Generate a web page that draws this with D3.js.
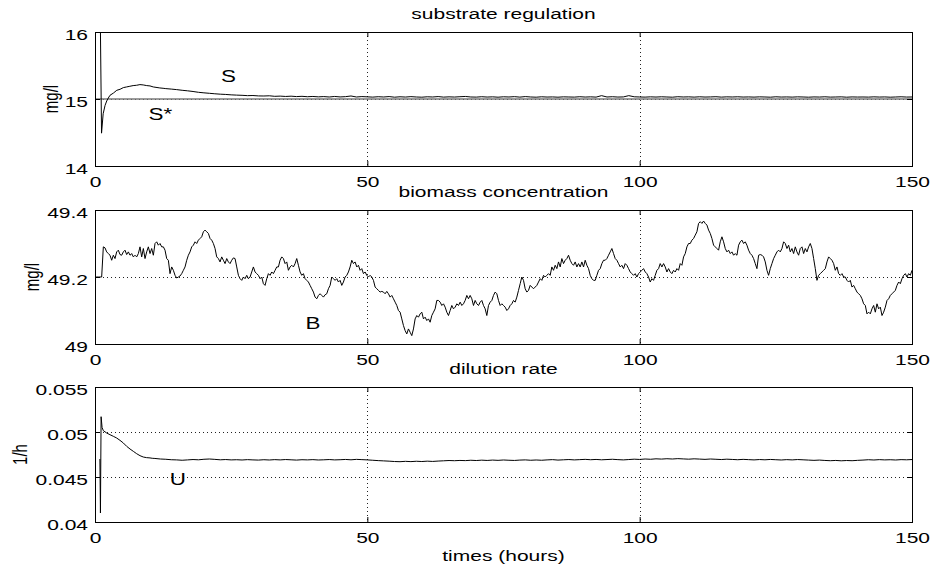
<!DOCTYPE html>
<html><head><meta charset="utf-8">
<script src="https://cdn.jsdelivr.net/npm/d3@7"></script>
<style>
body{margin:0;background:#fff}
text{font-family:"Liberation Sans",Arial,Helvetica,sans-serif;fill:#000}
</style>
</head><body>
<svg id="chart" width="932" height="569"></svg>
<script>
// ---------------- data ----------------
const xTicks = [0, 50, 100, 150];
const xTickLabels = ["0", "50", "100", "150"];
const titles = ["substrate regulation", "biomass concentration", "dilution rate"];
const yLabels = ["mg/l", "mg/l", "1/h"];
const xLabel = "times (hours)";

const sTicks = [14, 15, 16];
const sTickLabels = ["14", "15", "16"];
const bTicks = [49, 49.2, 49.4];
const bTickLabels = ["49", "49.2", "49.4"];
const uTicks = [0.04, 0.045, 0.05, 0.055];
const uTickLabels = ["0.04", "0.045", "0.05", "0.055"];

const sRef = 15; // S* set point

// substrate S: transient (explicit times) + hourly values from t=13 to 150
const sEarlyT = [1.0, 1.2, 1.5, 1.85, 2.15, 2.45, 2.75, 3.4, 4.0, 4.6, 5.2, 5.8, 6.4, 7.0, 7.65, 8.25, 8.85, 9.5, 10.1, 10.7, 11.9, 12.5];
const sEarlyV = [16.0, 14.49, 14.78, 14.905, 14.97, 15.015, 15.055, 15.09, 15.13, 15.145, 15.17, 15.18, 15.19, 15.2, 15.205, 15.215, 15.21, 15.2, 15.195, 15.18, 15.165, 15.16];
const sLateStart = 13;
const sLate = [
  15.155, 15.148, 15.140, 15.130, 15.122, 15.112, 15.100, 15.092,
  15.085, 15.078, 15.072, 15.068, 15.062, 15.058, 15.055, 15.050, 15.052, 15.046,
  15.045, 15.048, 15.040, 15.043, 15.038, 15.042, 15.036, 15.040, 15.034, 15.038,
  15.032, 15.036, 15.030, 15.038, 15.031, 15.035, 15.045, 15.030, 15.036, 15.032,
  15.028, 15.034, 15.030, 15.036, 15.027, 15.033, 15.029, 15.035, 15.030, 15.027,
  15.033, 15.030, 15.036, 15.028, 15.032, 15.029, 15.034, 15.038, 15.030, 15.028,
  15.034, 15.029, 15.032, 15.027, 15.033, 15.030, 15.035, 15.028, 15.036, 15.030,
  15.027, 15.033, 15.029, 15.031, 15.027, 15.032, 15.030, 15.028, 15.034, 15.029,
  15.032, 15.028, 15.050, 15.030, 15.034, 15.029, 15.031, 15.050, 15.033, 15.030,
  15.028, 15.032, 15.029, 15.033, 15.030, 15.027, 15.034, 15.030, 15.032, 15.028,
  15.033, 15.029, 15.031, 15.034, 15.028, 15.032, 15.030, 15.033, 15.029, 15.031,
  15.028, 15.032, 15.030, 15.027, 15.033, 15.029, 15.031, 15.028, 15.032, 15.030,
  15.027, 15.031, 15.029, 15.033, 15.028, 15.030, 15.032, 15.027, 15.031, 15.029,
  15.030, 15.028, 15.032, 15.029, 15.031, 15.027, 15.030, 15.033, 15.029, 15.030
];

// biomass B: samples evenly spaced over 0..150 h
const bValues = [
  49.200, 49.200, 49.200, 49.200, 49.200, 49.290, 49.287, 49.275, 49.270, 49.265,
  49.250, 49.265, 49.255, 49.275, 49.280, 49.267, 49.265, 49.275, 49.280, 49.267,
  49.275, 49.265, 49.270, 49.260, 49.265, 49.260, 49.270, 49.290, 49.260, 49.285,
  49.255, 49.275, 49.290, 49.270, 49.285, 49.265, 49.300, 49.305, 49.295, 49.300,
  49.290, 49.290, 49.280, 49.255, 49.250, 49.210, 49.230, 49.220, 49.205, 49.197,
  49.200, 49.203, 49.210, 49.220, 49.230, 49.250, 49.265, 49.275, 49.290, 49.295,
  49.305, 49.300, 49.310, 49.315, 49.320, 49.335, 49.340, 49.335, 49.330, 49.315,
  49.310, 49.300, 49.285, 49.260, 49.255, 49.245, 49.260, 49.250, 49.240, 49.255,
  49.245, 49.240, 49.250, 49.257, 49.255, 49.230, 49.205, 49.195, 49.190, 49.200,
  49.195, 49.205, 49.195, 49.200, 49.215, 49.230, 49.215, 49.210, 49.205, 49.195,
  49.200, 49.180, 49.175, 49.195, 49.210, 49.205, 49.215, 49.210, 49.220, 49.230,
  49.230, 49.250, 49.260, 49.255, 49.240, 49.245, 49.220, 49.230, 49.235, 49.230,
  49.240, 49.255, 49.235,
  49.215, 49.205, 49.210, 49.195, 49.190, 49.185, 49.175, 49.165, 49.155, 49.140,
  49.135, 49.145, 49.150, 49.145, 49.140, 49.147, 49.150, 49.165, 49.175, 49.200,
  49.195, 49.190, 49.195, 49.185, 49.190, 49.175, 49.185, 49.200, 49.205, 49.215,
  49.230, 49.250, 49.240, 49.245, 49.230, 49.235, 49.220, 49.225, 49.210, 49.215,
  49.205, 49.200, 49.205, 49.200, 49.190, 49.170, 49.165, 49.160, 49.155, 49.157,
  49.155, 49.150, 49.157, 49.150, 49.140, 49.145, 49.135, 49.125, 49.115, 49.100,
  49.095, 49.075, 49.055, 49.040, 49.030, 49.045, 49.035, 49.025, 49.045, 49.075,
  49.085, 49.080, 49.090, 49.095, 49.075, 49.080, 49.070, 49.075, 49.065, 49.085,
  49.095, 49.105, 49.130, 49.130, 49.125, 49.115, 49.120, 49.110, 49.095, 49.085,
  49.100, 49.115, 49.105, 49.110, 49.120, 49.115, 49.125, 49.115, 49.120, 49.130,
  49.145, 49.135, 49.145, 49.135, 49.115, 49.130, 49.120, 49.115, 49.125, 49.130,
  49.115, 49.105, 49.085, 49.115, 49.125, 49.130, 49.145, 49.155, 49.150, 49.130,
  49.115, 49.120, 49.115,
  49.110, 49.100, 49.105, 49.115, 49.120, 49.130, 49.125, 49.140, 49.160, 49.180,
  49.200, 49.190, 49.165, 49.155, 49.160, 49.175, 49.170, 49.165, 49.170, 49.175,
  49.185, 49.195, 49.190, 49.205, 49.200, 49.205, 49.210, 49.205, 49.230, 49.220,
  49.235, 49.225, 49.245, 49.230, 49.255, 49.240, 49.250, 49.255, 49.265, 49.250,
  49.240, 49.235, 49.245, 49.230, 49.240, 49.230, 49.245, 49.230, 49.250, 49.235,
  49.225, 49.205, 49.195, 49.190, 49.190, 49.205, 49.220, 49.225, 49.240, 49.250,
  49.250, 49.255, 49.265, 49.275, 49.285, 49.270, 49.255, 49.250, 49.240, 49.230,
  49.235, 49.225, 49.240, 49.235, 49.225, 49.215, 49.210, 49.205, 49.210, 49.200,
  49.210, 49.215, 49.220, 49.225, 49.215, 49.210, 49.200, 49.185, 49.195, 49.190,
  49.205, 49.220, 49.225, 49.240, 49.230, 49.240, 49.230, 49.215, 49.225, 49.215,
  49.210, 49.220, 49.215, 49.225, 49.220, 49.240, 49.235, 49.260, 49.270, 49.290,
  49.300, 49.300, 49.310, 49.315, 49.325, 49.335, 49.360, 49.365, 49.360, 49.367,
  49.360, 49.355, 49.340,
  49.330, 49.315, 49.295, 49.290, 49.285, 49.280, 49.305, 49.320, 49.305, 49.285,
  49.275, 49.280, 49.270, 49.275, 49.265, 49.270, 49.265, 49.295, 49.305, 49.310,
  49.300, 49.305, 49.295, 49.280, 49.270, 49.265, 49.255, 49.240, 49.225, 49.265,
  49.267, 49.265, 49.260, 49.245, 49.220, 49.205, 49.225, 49.240, 49.255, 49.265,
  49.275, 49.280, 49.275, 49.285, 49.305, 49.300, 49.285, 49.295, 49.275, 49.285,
  49.270, 49.290, 49.275, 49.265, 49.285, 49.290, 49.270, 49.285, 49.275, 49.290,
  49.300, 49.285, 49.255, 49.225, 49.190, 49.205, 49.210, 49.215, 49.220, 49.225,
  49.245, 49.260, 49.255, 49.250, 49.240, 49.220, 49.230, 49.210, 49.205, 49.210,
  49.200, 49.200, 49.190, 49.185, 49.190, 49.170, 49.175, 49.165, 49.155, 49.150,
  49.145, 49.135, 49.120, 49.115, 49.090, 49.095, 49.090, 49.105, 49.115, 49.095,
  49.120, 49.105, 49.110, 49.085, 49.095, 49.110, 49.130, 49.135, 49.145, 49.150,
  49.155, 49.160, 49.175, 49.185, 49.180, 49.195, 49.205, 49.210, 49.200, 49.210,
  49.205, 49.220
];

// dilution rate U: transient (explicit times) + hourly values from t=11 to 150
const uEarlyT = [0.9, 1.0, 1.12, 1.3, 1.53, 2.14, 2.75, 3.37, 3.98, 4.59, 5.2, 5.81, 6.43, 7.04, 7.65, 8.26, 8.87, 9.48, 10.1, 10.5];
const uEarlyV = [0.0470, 0.0410, 0.0517, 0.0505, 0.05015, 0.04989, 0.0497, 0.04952, 0.04933, 0.04907, 0.04878, 0.04841, 0.04811, 0.04785, 0.04759, 0.04737, 0.04722, 0.04715, 0.04712, 0.04708];
const uLateStart = 11;
const uLate = [
  0.04706, 0.04700, 0.04697, 0.04692, 0.04690, 0.04686, 0.04690, 0.04694, 0.04691, 0.04697,
  0.04700, 0.04696, 0.04691, 0.04694, 0.04690, 0.04692, 0.04689, 0.04693, 0.04690, 0.04688,
  0.04692, 0.04689, 0.04693, 0.04690, 0.04694, 0.04691, 0.04688, 0.04692, 0.04690, 0.04693,
  0.04689, 0.04691, 0.04694, 0.04690, 0.04692, 0.04695, 0.04691, 0.04696, 0.04693, 0.04690,
  0.04686, 0.04682, 0.04679, 0.04676, 0.04672, 0.04670, 0.04674, 0.04671, 0.04675, 0.04672,
  0.04676, 0.04673, 0.04677, 0.04680, 0.04683, 0.04681, 0.04684, 0.04682, 0.04686, 0.04683,
  0.04687, 0.04684, 0.04688, 0.04685, 0.04689, 0.04686, 0.04684, 0.04688, 0.04690, 0.04686,
  0.04689, 0.04686, 0.04690, 0.04693, 0.04688, 0.04691, 0.04694, 0.04690, 0.04693, 0.04696,
  0.04692, 0.04695, 0.04691, 0.04694, 0.04697, 0.04693, 0.04690, 0.04694, 0.04698, 0.04695,
  0.04700, 0.04697, 0.04702, 0.04699, 0.04703, 0.04700, 0.04704, 0.04701, 0.04698, 0.04702,
  0.04699, 0.04696, 0.04700, 0.04697, 0.04694, 0.04698, 0.04695, 0.04692, 0.04696, 0.04693,
  0.04690, 0.04694, 0.04691, 0.04695, 0.04692, 0.04689, 0.04693, 0.04690, 0.04694, 0.04691,
  0.04688, 0.04685, 0.04688, 0.04684, 0.04681, 0.04684, 0.04680, 0.04683, 0.04681, 0.04685,
  0.04688, 0.04692, 0.04689, 0.04693, 0.04690, 0.04692, 0.04689, 0.04693, 0.04691, 0.04694
];

// curve labels
const curveLabels = [
  {panel: 0, text: "S", t: 24.5, v: 15.26},
  {panel: 0, text: "S*", t: 12.0, v: 14.68},
  {panel: 1, text: "B", t: 40.0, v: 49.045},
  {panel: 2, text: "U", t: 15.2, v: 0.0441}
];

// ---------------- build series ----------------
const sSeries = sEarlyT.map((t, i) => [t, sEarlyV[i]])
  .concat(sLate.map((v, i) => [sLateStart + i, v]));
const bSeries = bValues.map((v, i) => [i * 150 / (bValues.length - 1), v]);
const uSeries = uEarlyT.map((t, i) => [t, uEarlyV[i]])
  .concat(uLate.map((v, i) => [uLateStart + i, v]));

// ---------------- layout ----------------
const SX = 1.4;      // horizontal stretch of the glyphs
const FS = 15;
const X0 = 95, X1 = 912;
const panels = [
  {top: 32,  bottom: 166, domain: [14, 16],      ticks: sTicks, labels: sTickLabels, grid: [15],            series: [sSeries], ref: sRef, ylabX: 58},
  {top: 210, bottom: 344, domain: [49, 49.4],    ticks: bTicks, labels: bTickLabels, grid: [49.2],          series: [bSeries], ylabX: 39},
  {top: 387, bottom: 522, domain: [0.04, 0.055], ticks: uTicks, labels: uTickLabels, grid: [0.045, 0.05],   series: [uSeries], ylabX: 27}
];

const svg = d3.select("#chart");
const x = d3.scaleLinear().domain([0, 150]).range([X0, X1]);

function sText(g, px, py, str, anchor, size) {
  return g.append("text")
    .attr("transform", `translate(${px},${py}) scale(${SX},1)`)
    .attr("text-anchor", anchor)
    .attr("font-size", size)
    .text(str);
}

panels.forEach((p, i) => {
  const g = svg.append("g");
  const y = d3.scaleLinear().domain(p.domain).range([p.bottom, p.top]);

  const clipId = "clip" + i;
  svg.append("clipPath").attr("id", clipId)
    .append("rect").attr("x", X0).attr("y", p.top).attr("width", X1 - X0).attr("height", p.bottom - p.top);

  // dotted grid
  g.append("g").selectAll("line").data(xTicks.slice(1, -1)).join("line")
    .attr("x1", d => Math.round(x(d)) + 0.5).attr("x2", d => Math.round(x(d)) + 0.5)
    .attr("y1", p.top).attr("y2", p.bottom)
    .attr("stroke", "#222").attr("stroke-width", 1).attr("stroke-dasharray", "1,3");
  g.append("g").selectAll("line").data(p.grid).join("line")
    .attr("x1", X0).attr("x2", X1)
    .attr("y1", d => Math.round(y(d)) + 0.5).attr("y2", d => Math.round(y(d)) + 0.5)
    .attr("stroke", "#222").attr("stroke-width", 1).attr("stroke-dasharray", "1,3");

  const line = d3.line().x(d => x(d[0])).y(d => y(d[1]));

  if (p.ref !== undefined) {
    g.append("path").datum([[0, p.ref], [150, p.ref]])
      .attr("d", line).attr("fill", "none")
      .attr("stroke", "#7a7a7a").attr("stroke-width", 1.6);
  }

  p.series.forEach(s => {
    g.append("path").datum(s)
      .attr("clip-path", `url(#${clipId})`)
      .attr("d", line).attr("fill", "none")
      .attr("stroke", "#000").attr("stroke-width", 1)
      .attr("stroke-linejoin", "round");
  });

  // axes
  const ax = g.append("g").attr("transform", `translate(0,${p.bottom})`)
    .call(d3.axisBottom(x).tickValues(xTicks).tickFormat((d, k) => xTickLabels[k])
      .tickSizeInner(-5).tickSizeOuter(0).tickPadding(10.4));
  ax.select(".domain").remove();
  ax.selectAll("text").attr("font-size", FS).attr("font-family", null)
    .attr("transform", `scale(${SX},1)`);

  const axt = g.append("g").attr("transform", `translate(0,${p.top})`)
    .call(d3.axisTop(x).tickValues(xTicks).tickFormat("").tickSizeInner(-5).tickSizeOuter(0));
  axt.select(".domain").remove();

  const ay = g.append("g").attr("transform", `translate(${X0},0)`)
    .call(d3.axisLeft(y).tickValues(p.ticks).tickFormat((d, k) => p.labels[k])
      .tickSizeInner(-5).tickSizeOuter(0).tickPadding(7));
  ay.select(".domain").remove();
  ay.selectAll("text").attr("font-size", FS).attr("font-family", null)
    .attr("x", -7 / SX).attr("dy", "0.49em")
    .attr("transform", `scale(${SX},1)`);

  const ayr = g.append("g").attr("transform", `translate(${X1},0)`)
    .call(d3.axisRight(y).tickValues(p.ticks).tickFormat("").tickSizeInner(-5).tickSizeOuter(0));
  ayr.select(".domain").remove();

  // frame
  g.append("rect").attr("x", X0 + 0.5).attr("y", p.top + 0.5)
    .attr("width", X1 - X0).attr("height", p.bottom - p.top)
    .attr("fill", "none").attr("stroke", "#000").attr("stroke-width", 1);

  // title
  sText(g, (X0 + X1) / 2, p.top - 13.5, titles[i], "middle", FS);

  // y label (rotated)
  g.append("text")
    .attr("transform", `translate(${p.ylabX},${(p.top + p.bottom) / 2}) scale(${SX},1) rotate(-90)`)
    .attr("text-anchor", "middle").attr("font-size", FS)
    .text(yLabels[i]);

  // curve labels
  curveLabels.filter(c => c.panel === i).forEach(c => {
    sText(g, x(c.t), y(c.v), c.text, "middle", 16);
  });
});

// x axis title
sText(svg, (X0 + X1) / 2, 561, xLabel, "middle", FS);
</script>
</body></html>
